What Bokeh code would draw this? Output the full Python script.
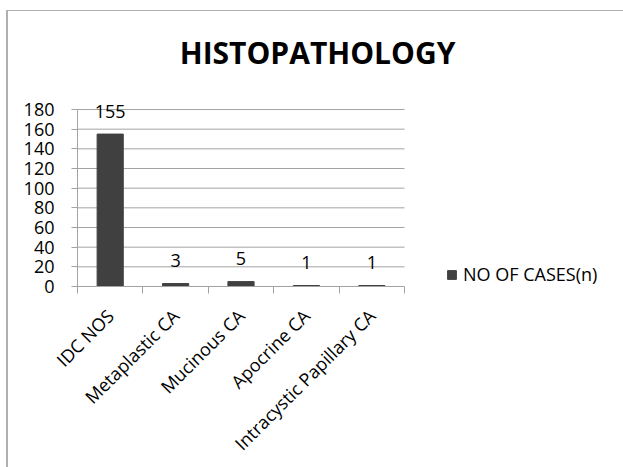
import math
from bokeh.plotting import figure
from bokeh.models import (ColumnDataSource, Range1d, FixedTicker, LabelSet, Label)
from bokeh.core.properties import value
from bokeh.embed import file_html
from bokeh.resources import INLINE

# ---- data ----
categories = ["IDC NOS", "Metaplastic CA", "Mucinous CA", "Apocrine CA",
              "Intracystic Papillary CA"]
cases = [155, 3, 5, 1, 1]
y_ticks = [0, 20, 40, 60, 80, 100, 120, 140, 160, 180]
series_name = "NO OF CASES(n)"
title_text = "HISTOPATHOLOGY"

FONT = "Open Sans"
GRID = "#a3a3a3"
BAR = "#404040"

# ---- geometry (pixels) ----
FRAME_W, FRAME_H = 535, 266
CAT_PX = 65.4            # width of one category
AXIS_PX = 177.0          # height of the 0..180 axis
x_max = FRAME_W / CAT_PX
y_max = FRAME_H * y_ticks[-1] / AXIS_PX
n_cat = len(categories)

centers = [i + 0.5 for i in range(n_cat)]
edges = list(range(n_cat + 1))

src = ColumnDataSource(dict(x=centers, n=cases, lbl=[str(v) for v in cases]))
grid_src = ColumnDataSource(dict(y=y_ticks[1:],
                                 x0=[0] * (len(y_ticks) - 1),
                                 x1=[n_cat] * (len(y_ticks) - 1)))

p = figure(x_range=Range1d(0, x_max), y_range=Range1d(0, y_max),
           frame_width=FRAME_W, frame_height=FRAME_H,
           min_border_left=69, min_border_right=11,
           min_border_top=9, min_border_bottom=181,
           output_backend="svg", toolbar_location=None)
p.styles = {"margin-left": "6px", "margin-top": "10px",
            "border-left": "2px solid #b0b0b0",
            "border-top": "1px solid #b0b0b0"}
p.outline_line_color = None
p.background_fill_color = "white"
p.border_fill_color = "white"

xax = p.xaxis[0]
xax.bounds = (0, n_cat)
xax.ticker = FixedTicker(ticks=centers, minor_ticks=edges)
xax.major_label_overrides = {c: name for c, name in zip(centers, categories)}
xax.major_tick_in = 0
xax.major_tick_out = 0
xax.minor_tick_in = 0
xax.minor_tick_out = 7
xax.axis_line_color = GRID
xax.minor_tick_line_color = GRID
xax.major_tick_line_color = None
xax.major_label_orientation = math.pi / 4
xax.major_label_standoff = 19
xax.major_label_text_font = FONT
xax.major_label_text_font_size = "18px"
xax.major_label_text_color = "black"

yax = p.yaxis[0]
yax.bounds = (y_ticks[0], y_ticks[-1])
yax.ticker = FixedTicker(ticks=y_ticks, minor_ticks=[])
yax.major_tick_in = 0
yax.major_tick_out = 6
yax.minor_tick_out = 0
yax.axis_line_color = GRID
yax.major_tick_line_color = GRID
yax.major_label_standoff = 17
yax.major_label_text_font = FONT
yax.major_label_text_font_size = "18px"
yax.major_label_text_color = "black"

p.xgrid.visible = False
p.ygrid.visible = False

# horizontal gridlines limited to the category area
p.segment(x0="x0", x1="x1", y0="y", y1="y", source=grid_src,
          line_color=GRID, line_width=1)

p.vbar(x="x", top="n", width=0.4, source=src, fill_color=BAR,
       line_color=BAR, legend_label=series_name)

p.add_layout(LabelSet(x="x", y="n", text="lbl", source=src, y_offset=23,
                      text_align="center", text_baseline="middle",
                      text_font=value(FONT), text_font_size="18px",
                      text_color="black"))

p.add_layout(Label(x=3.67, y=238.0, text=title_text, text_align="center",
                   text_baseline="middle", text_font=FONT,
                   text_font_size="30px", text_font_style="bold",
                   text_color="black"))

lg = p.legend[0]
lg.location = (369, 0)
lg.padding = 0
lg.margin = 0
lg.border_line_color = None
lg.background_fill_alpha = 0
lg.glyph_width = 11
lg.glyph_height = 11
lg.label_standoff = 6
lg.label_text_font = FONT
lg.label_text_font_size = "18px"
lg.label_text_color = "black"

open("out.html", "w").write(file_html(p, INLINE))
